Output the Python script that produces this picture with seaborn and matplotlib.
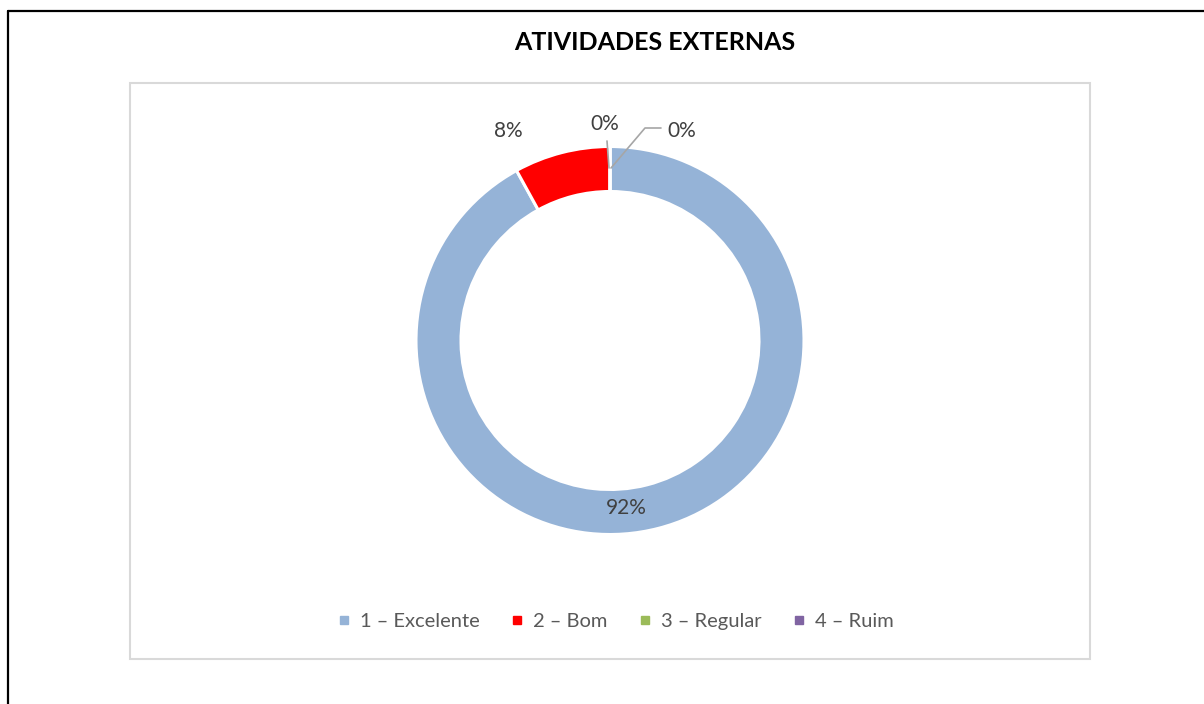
import matplotlib
matplotlib.use("Agg")
import matplotlib.pyplot as plt
import seaborn as sns
from matplotlib.lines import Line2D
from matplotlib.patches import Rectangle

categories = ["1 – Excelente", "2 – Bom", "3 – Regular", "4 – Ruim"]
values = [92, 8, 0, 0]
labels = ["92%", "8%", "0%", "0%"]
colors = ["#95B3D7", "#FF0000", "#9BBB59", "#8064A2"]
title = "ATIVIDADES EXTERNAS"

sns.set_theme(style="white")
plt.rcParams['font.family'] = ['Lato', 'DejaVu Sans']

W, H = 1204, 704
fig = plt.figure(figsize=(W / 100, H / 100), dpi=100)
fig.patch.set_facecolor("white")

def fx(x):
    return x / W

def fy(y):
    return 1 - y / H

# outer black border (top and left visible)
fig.add_artist(Line2D([fx(8), 1.0], [fy(11), fy(11)], color="black", lw=1.6, transform=fig.transFigure))
fig.add_artist(Line2D([fx(8), fx(8)], [fy(11), 0.0], color="black", lw=1.6, transform=fig.transFigure))
# inner plot-area box
fig.add_artist(Rectangle((fx(130), fy(659)), fx(1090) - fx(130), fy(83) - fy(659),
                         fill=False, edgecolor="#D9D9D9", lw=1.5, transform=fig.transFigure))

fig.text(fx(655), fy(42), title, ha="center", va="center", fontsize=18,
         fontweight="bold", color="black")

cx, cy, R = 610, 340.5, 194
ax = fig.add_axes([fx(cx - R), fy(cy + R), 2 * R / W, 2 * R / H])
wedges, _ = ax.pie(values, colors=colors, startangle=90, counterclock=False,
                   radius=1.0, wedgeprops=dict(width=45 / 194, edgecolor="white", linewidth=2.2))
ax.set_xlim(-1, 1)
ax.set_ylim(-1, 1)
ax.set_aspect("equal")
ax.axis("off")

lab_color = "#404040"
lab_pos = [(626, 508), (508, 131), (605, 124), (682, 131)]
for (px, py), t in zip(lab_pos, labels):
    fig.text(fx(px), fy(py), t, ha="center", va="center", fontsize=15, color=lab_color)

# leader lines for zero slices
fig.add_artist(Line2D([fx(607), fx(609)], [fy(141), fy(168)], color="#A6A6A6", lw=1.2, transform=fig.transFigure))
fig.add_artist(Line2D([fx(611), fx(645), fx(661)], [fy(168), fy(128), fy(128)], color="#A6A6A6", lw=1.2, transform=fig.transFigure))

handles = [Line2D([0], [0], marker="s", linestyle="none", markersize=6,
                  markerfacecolor=c, markeredgecolor=c) for c in colors]
leg = fig.legend(handles, categories, loc="center", bbox_to_anchor=(fx(615), fy(621)),
                 ncol=4, frameon=False, fontsize=14.5, handlelength=0.7,
                 handletextpad=0.45, columnspacing=1.5, borderaxespad=0)
for t in leg.get_texts():
    t.set_color("#595959")

fig.savefig("out.png", dpi=100, facecolor="white")
